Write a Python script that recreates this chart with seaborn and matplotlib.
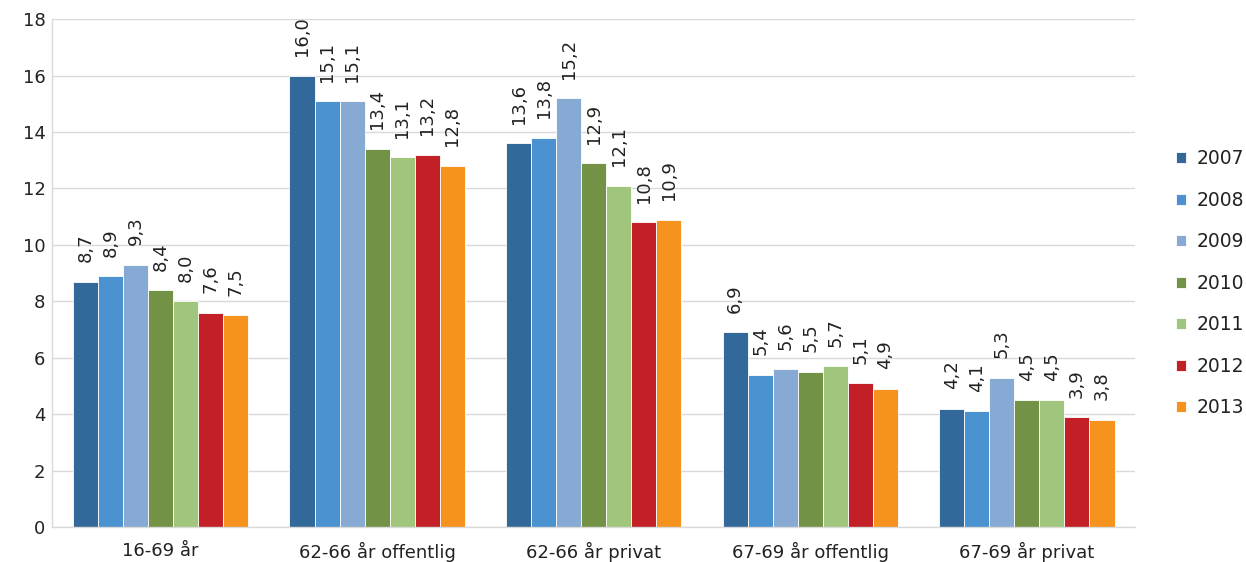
import matplotlib
matplotlib.use("Agg")
import matplotlib.pyplot as plt
import seaborn as sns
import pandas as pd

categories = ["16-69 år", "62-66 år offentlig", "62-66 år privat",
              "67-69 år offentlig", "67-69 år privat"]
years = ["2007", "2008", "2009", "2010", "2011", "2012", "2013"]
values = {
    "2007": [8.7, 16.0, 13.6, 6.9, 4.2],
    "2008": [8.9, 15.1, 13.8, 5.4, 4.1],
    "2009": [9.3, 15.1, 15.2, 5.6, 5.3],
    "2010": [8.4, 13.4, 12.9, 5.5, 4.5],
    "2011": [8.0, 13.1, 12.1, 5.7, 4.5],
    "2012": [7.6, 13.2, 10.8, 5.1, 3.9],
    "2013": [7.5, 12.8, 10.9, 4.9, 3.8],
}
colors = ["#33689A", "#4A92D0", "#86AAD3", "#739245", "#A0C67E", "#C22026", "#F6931E"]

rows = [(c, y, values[y][i]) for y in years for i, c in enumerate(categories)]
df = pd.DataFrame(rows, columns=["kategori", "år", "verdi"])

sns.set_theme(style="white")
plt.rcParams["font.family"] = ["DejaVu Sans"]

fig = plt.figure(figsize=(12.46, 5.62), dpi=100)
ax = fig.add_axes([0.042, 0.062, 0.869, 0.904])

sns.barplot(data=df, x="kategori", y="verdi", hue="år", order=categories,
            hue_order=years, palette=colors, saturation=1, width=0.81,
            edgecolor="white", linewidth=0.6, ax=ax, errorbar=None)

for cont, y in zip(ax.containers, years):
    labels = [f"{v:.1f}".replace(".", ",") for v in values[y]]
    ax.bar_label(cont, labels=labels, rotation=90, padding=14,
                 fontsize=13, color="#222222")

ax.set_ylim(0, 18)
ax.set_yticks(range(0, 19, 2))
ax.set_xlim(-0.5, 4.5)
ax.set_xlabel("")
ax.set_ylabel("")
ax.yaxis.grid(True, color="#D9D9D9", linewidth=1)
ax.set_axisbelow(True)
for s in ["top", "right"]:
    ax.spines[s].set_visible(False)
for s in ["left", "bottom"]:
    ax.spines[s].set_color("#D9D9D9")
    ax.spines[s].set_linewidth(1)
ax.tick_params(axis="both", labelsize=13, colors="#222222", length=0)
ax.tick_params(axis="y", pad=5)
ax.tick_params(axis="x", pad=10.5)

leg = ax.legend(loc="center left", bbox_to_anchor=(1.022, 0.48), frameon=False,
                fontsize=13.5, handlelength=0.55, handleheight=0.55,
                labelspacing=1.2, handletextpad=0.55)
for t in leg.get_texts():
    t.set_color("#222222")

fig.savefig("out.png", dpi=100, facecolor="white")
